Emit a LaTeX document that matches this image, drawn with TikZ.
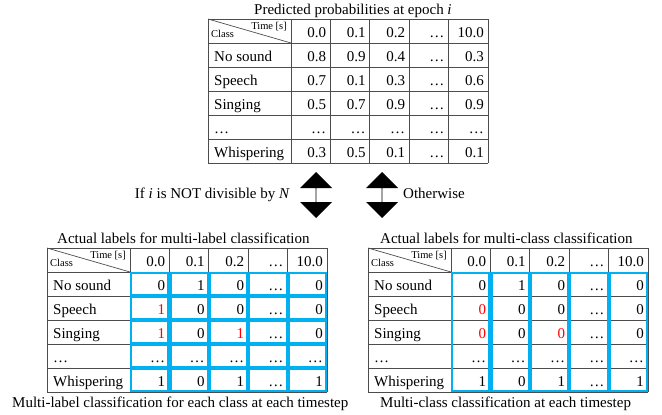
\documentclass[tikz,border=0pt]{standalone}
\usepackage{fontspec}
\setmainfont{Liberation Serif}
\usepackage{xcolor}
\usetikzlibrary{shapes.arrows, positioning}
\definecolor{hitblue}{HTML}{00B0F0}

\begin{document}
\begin{tikzpicture}[x=1pt, y=-1pt,
    grid/.style={draw=black!70, line width=0.7pt},
    val/.style={inner sep=0pt, anchor=base east, font=\fontsize{15}{17}\selectfont},
    cls/.style={inner sep=0pt, anchor=base west, font=\fontsize{15}{17}\selectfont},
    ttl/.style={inner sep=0pt, anchor=base west, font=\fontsize{15}{17}\selectfont},
    corner/.style={inner sep=0pt, font=\fontsize{10.5}{12}\selectfont},
    hit/.style={draw=hitblue, line width=2.2pt},
    dblarr/.style={shape=double arrow, fill=black, shape border rotate=90,
                   minimum height=46pt, minimum width=32pt, inner sep=0pt,
                   double arrow head extend=9.5pt}]

    \useasboundingbox (0,0) rectangle (662,415);

    % three tables: prefix / left / top
    \foreach \tb/\X/\Y in {p/208/19, ml/47/248, mc/368/248}{
      \begin{scope}[shift={(\X,\Y)}]
        \foreach \k in {0,...,6}
          \draw[grid] (0,24*\k) -- (280,24*\k);
        \draw[grid] (0,0) -- (0,144);
        \foreach \k in {0,...,5}
          \draw[grid] (83+39.4*\k,0) -- (83+39.4*\k,144);
        \draw[grid] (0,0) -- (83,24);
        \node[corner, anchor=base east] (\tb-time) at (79,10) {Time [s]};
        \node[corner, anchor=base west] (\tb-class) at (3,18) {Class};
        \foreach \h [count=\c] in {0.0,0.1,0.2,…,10.0}
          \node[val] (\tb-0-\c) at (83+39.4*\c-4,18.5) {\h};
        \foreach \n [count=\r] in {No sound,Speech,Singing,…,Whispering}
          \node[cls] (\tb-\r-0) at (6,24*\r+18.5) {\n};
      \end{scope}
    }

    % predicted probabilities
    \foreach \r/\vals in {1/{0.8,0.9,0.4,…,0.3}, 2/{0.7,0.1,0.3,…,0.6},
                          3/{0.5,0.7,0.9,…,0.9}, 4/{…,…,…,…,…},
                          5/{0.3,0.5,0.1,…,0.1}}
      \foreach \v [count=\c] in \vals
        \node[val] (p-\r-\c) at (208+83+39.4*\c-4,19+24*\r+18.5) {\v};

    % multi-label targets
    \foreach \r/\vals in {1/{0,1,0,…,0}, 2/{\textcolor{red}{1},0,0,…,0},
                          3/{\textcolor{red}{1},0,\textcolor{red}{1},…,0},
                          4/{…,…,…,…,…}, 5/{1,0,1,…,1}}
      \foreach \v [count=\c] in \vals
        \node[val] (ml-\r-\c) at (47+83+39.4*\c-4,248+24*\r+18.5) {\v};

    % multi-class targets
    \foreach \r/\vals in {1/{0,1,0,…,0}, 2/{\textcolor{red}{0},0,0,…,0},
                          3/{\textcolor{red}{0},0,\textcolor{red}{0},…,0},
                          4/{…,…,…,…,…}, 5/{1,0,1,…,1}}
      \foreach \v [count=\c] in \vals
        \node[val] (mc-\r-\c) at (368+83+39.4*\c-4,248+24*\r+18.5) {\v};

    % blue boxes: per cell / per column
    \foreach \r in {1,...,5}
      \foreach \c in {1,...,5}
        \draw[hit] (47+83+39.4*\c-39.4+1,248+24*\r+1) rectangle (47+83+39.4*\c-1,248+24*\r+23);
    \foreach \c in {1,...,5}
      \draw[hit] (368+83+39.4*\c-39.4+1,248+25) rectangle (368+83+39.4*\c-1,248+143);

    % titles
    \node[ttl] (ttlP) at (254,14) {Predicted probabilities at epoch \textit{i}};
    \node[ttl] (ttlML) at (57,243) {Actual labels for multi-label classification};
    \node[ttl] (ttlMC) at (380,243) {Actual labels for multi-class classification};
    \node[ttl] (capML) at (12,407) {Multi-label classification for each class at each timestep};
    \node[ttl] (capMC) at (380,407) {Multi-class classification at each timestep};

    % branch arrows
    \node[dblarr] (arrL) at (316,195) {};
    \node[dblarr] (arrR) at (382,195) {};
    \node[ttl, anchor=base east] (condL) at (290,198) {If \textit{i} is NOT divisible by \textit{N}};
    \node[ttl] (condR) at (403,198) {Otherwise};
\end{tikzpicture}
\end{document}
